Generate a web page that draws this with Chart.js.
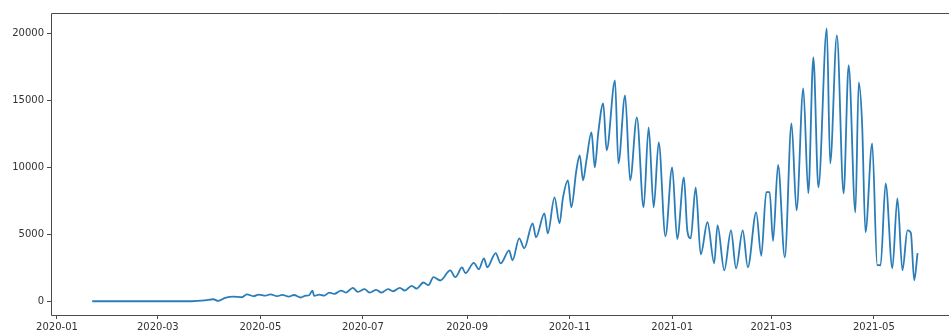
<!DOCTYPE html>
<html>
<head>
<meta charset="utf-8">
<script src="https://cdn.jsdelivr.net/npm/chart.js@4"></script>
<style>
  html, body { margin: 0; padding: 0; background: #fff; }
  canvas { display: block; }
</style>
</head>
<body>
<canvas id="chart" width="949" height="336"></canvas>
<script>
// Daily new cases: turning points of the weekly cycle
const dates = [
  '2020-01-22','2020-03-01','2020-03-21','2020-03-29','2020-04-03','2020-04-06','2020-04-10','2020-04-15',
  '2020-04-20','2020-04-23','2020-04-27','2020-04-30','2020-05-04','2020-05-07','2020-05-11','2020-05-14',
  '2020-05-18','2020-05-21','2020-05-25','2020-05-28','2020-05-30','2020-06-01','2020-06-02','2020-06-05',
  '2020-06-08','2020-06-11','2020-06-14','2020-06-18','2020-06-21','2020-06-25','2020-06-28','2020-07-02',
  '2020-07-05','2020-07-09','2020-07-12','2020-07-16','2020-07-19','2020-07-23','2020-07-26','2020-07-30',
  '2020-08-02','2020-08-06','2020-08-09','2020-08-12','2020-08-16','2020-08-22','2020-08-25','2020-08-29',
  '2020-08-31','2020-09-05','2020-09-08','2020-09-11','2020-09-13','2020-09-18','2020-09-21','2020-09-26',
  '2020-09-28','2020-10-02','2020-10-05','2020-10-10','2020-10-12','2020-10-17','2020-10-19','2020-10-23',
  '2020-10-26','2020-10-28','2020-10-31','2020-11-02','2020-11-05','2020-11-07','2020-11-09','2020-11-11',
  '2020-11-14','2020-11-16','2020-11-18','2020-11-21','2020-11-23','2020-11-28','2020-11-30','2020-12-04',
  '2020-12-07','2020-12-11','2020-12-15','2020-12-18','2020-12-21','2020-12-24','2020-12-28','2021-01-01',
  '2021-01-04','2021-01-08','2021-01-10','2021-01-12','2021-01-15','2021-01-18','2021-01-22','2021-01-26',
  '2021-01-28','2021-02-01','2021-02-05','2021-02-08','2021-02-12','2021-02-15','2021-02-20','2021-02-23',
  '2021-02-26','2021-02-28','2021-03-02','2021-03-05','2021-03-09','2021-03-13','2021-03-16','2021-03-20',
  '2021-03-23','2021-03-26','2021-03-29','2021-04-03','2021-04-05','2021-04-09','2021-04-13','2021-04-16',
  '2021-04-20','2021-04-22','2021-04-24','2021-04-26','2021-04-30','2021-05-03','2021-05-05','2021-05-08',
  '2021-05-12','2021-05-15','2021-05-18','2021-05-21','2021-05-23','2021-05-25','2021-05-27'
];
const cases = [
  0, 0, 0, 60, 150, 30, 250, 350,
  300, 520, 380, 500, 420, 520, 380, 480,
  350, 470, 280, 420, 450, 800, 400, 500,
  420, 650, 550, 800, 650, 1000, 700, 900,
  650, 850, 650, 900, 750, 1000, 800, 1150,
  950, 1400, 1200, 1800, 1550, 2300, 1800, 2530,
  2100, 2860, 2390, 3200, 2540, 3600, 2830, 3800,
  3060, 4700, 3960, 5820, 4780, 6570, 5070, 7760,
  5820, 7700, 9030, 7010, 9780, 10900, 9030, 10520,
  12610, 10000, 12540, 14780, 11270, 16490, 10300, 15370,
  9030, 13730, 7010, 12990, 7010, 11870, 4850, 10000,
  4650, 9250, 5300, 4700, 8500, 3500, 5900, 2840,
  5670, 2310, 5300, 2460, 5300, 2540, 6640, 3400,
  8150, 8150, 4500, 10180, 3280, 13280, 6790, 15900,
  8060, 18210, 8510, 20370, 10300, 19850, 8060, 17610,
  6640, 16340, 13280, 5150, 11790, 2700, 2690, 8810,
  2460, 7690, 2310, 5300, 5100, 1570, 3600
];

// Axis ticks
const xTickDates = ['2020-01-01','2020-03-01','2020-05-01','2020-07-01','2020-09-01','2020-11-01','2021-01-01','2021-03-01','2021-05-01'];
const yTicks = [0, 5000, 10000, 15000, 20000];

const EPOCH = Date.UTC(2020, 0, 1);
function dayOf(s) {
  const [y, m, d] = s.split('-').map(Number);
  return (Date.UTC(y, m - 1, d) - EPOCH) / 86400000;
}
const points = dates.map((d, i) => ({ x: dayOf(d), y: cases[i] }));
const xTickPos = xTickDates.map(dayOf);
const xTickText = xTickDates.map(s => s.slice(0, 7));

const AXIS = '#4a4a4a';
const TEXT = '#333333';
const FONT = { family: 'DejaVu Sans', size: 10 };

// Frame around the plot area (left, top, bottom; the right side runs off the canvas)
const frame = {
  id: 'frame',
  afterDraw(chart) {
    const { ctx, chartArea: a } = chart;
    ctx.save();
    ctx.strokeStyle = AXIS;
    ctx.lineWidth = 1;
    ctx.beginPath();
    ctx.moveTo(a.right + 2, Math.round(a.top) + 0.5);
    ctx.lineTo(Math.round(a.left) + 0.5, Math.round(a.top) + 0.5);
    ctx.lineTo(Math.round(a.left) + 0.5, Math.round(a.bottom) + 0.5);
    ctx.lineTo(a.right + 2, Math.round(a.bottom) + 0.5);
    ctx.stroke();
    ctx.restore();
  }
};

new Chart(document.getElementById('chart'), {
  type: 'line',
  data: {
    datasets: [{
      data: points,
      borderColor: '#2a7db8',
      borderWidth: 1.8,
      pointRadius: 0,
      fill: false,
      cubicInterpolationMode: 'monotone'
    }]
  },
  options: {
    responsive: false,
    animation: false,
    layout: { padding: { top: 13, right: 0, left: 0, bottom: 0 } },
    plugins: { legend: { display: false }, tooltip: { enabled: false } },
    scales: {
      x: {
        type: 'linear',
        min: -3.55,
        max: 530.7,
        border: { display: false },
        grid: { drawOnChartArea: false, drawTicks: true, tickLength: 4, color: AXIS },
        ticks: {
          font: FONT, color: TEXT, padding: 2, maxRotation: 0, autoSkip: false,
          callback: (v) => {
            const i = xTickPos.indexOf(v);
            return i >= 0 ? xTickText[i] : '';
          }
        },
        afterBuildTicks: (s) => { s.ticks = xTickPos.map(v => ({ value: v })); },
        afterFit: (s) => { s.height = 21; }
      },
      y: {
        min: -1025,
        max: 21525,
        border: { display: false },
        grid: { drawOnChartArea: false, drawTicks: true, tickLength: 4, color: AXIS },
        ticks: { font: FONT, color: TEXT, padding: 3, callback: (v) => String(v) },
        afterBuildTicks: (s) => { s.ticks = yTicks.map(v => ({ value: v })); },
        afterFit: (s) => { s.width = 51; }
      }
    }
  },
  plugins: [frame]
});
</script>
</body>
</html>
